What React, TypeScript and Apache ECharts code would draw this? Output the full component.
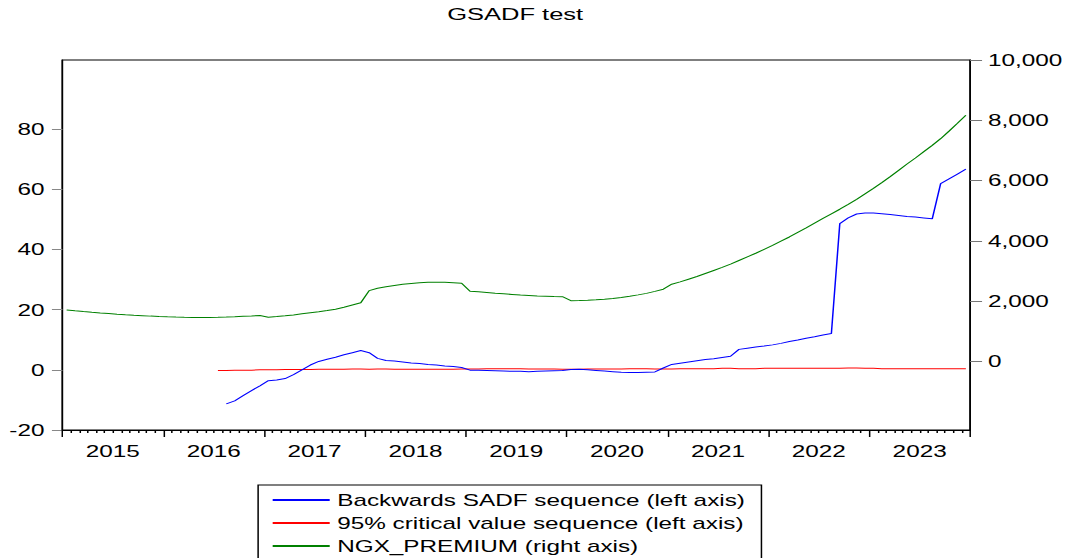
import React, { useEffect, useRef } from 'react';
import * as echarts from 'echarts';

// Calendar: monthly observations 2015M01 .. 2023M12 (index 0..107)
const years = ['2015', '2016', '2017', '2018', '2019', '2020', '2021', '2022', '2023'];
const leftTicks = [-20, 0, 20, 40, 60, 80];
const rightTicks = [0, 2000, 4000, 6000, 8000, 10000];

// NGX_PREMIUM (right axis), 2015M01..2023M12
const ngxPremium = [
  1707, 1680, 1655, 1632, 1610, 1590, 1570, 1552, 1535, 1520, 1505, 1492,
  1482, 1473, 1465, 1462, 1460, 1460, 1465, 1473, 1485, 1498, 1510, 1525,
  1470, 1490, 1515, 1545, 1580, 1615, 1650, 1690, 1735, 1800, 1875, 1950,
  2350, 2430, 2480, 2520, 2560, 2590, 2610, 2625, 2630, 2625, 2615, 2595,
  2330, 2310, 2290, 2265, 2245, 2225, 2205, 2190, 2175, 2165, 2155, 2150,
  2017, 2020, 2030, 2045, 2065, 2090, 2125, 2165, 2210, 2260, 2325, 2397,
  2563, 2640, 2730, 2820, 2920, 3020, 3120, 3230, 3350, 3470, 3590, 3720,
  3850, 3990, 4130, 4280, 4430, 4590, 4750, 4900, 5050, 5210, 5380, 5560,
  5740, 5930, 6130, 6340, 6550, 6750, 6960, 7170, 7390, 7640, 7900, 8170,
];

// Backwards SADF sequence (left axis), starting 2016M08 (index 19)
const sadfStart = 19;
const sadfSeq = [
  -11.3, -10.3, -8.6, -6.9, -5.3,
  -3.6, -3.4, -2.9, -1.6, 0.0, 1.6, 2.8, 3.5, 4.2, 5.0, 5.7, 6.4,
  5.7, 3.8, 3.1, 2.9, 2.6, 2.3, 2.1, 1.8, 1.6, 1.3, 1.1, 0.8,
  -0.1, -0.1, -0.2, -0.3, -0.4, -0.5, -0.5, -0.6, -0.5, -0.4, -0.3, -0.2,
  0.1, 0.2, 0.0, -0.2, -0.4, -0.6, -0.8, -0.9, -0.9, -0.8, -0.7, 0.6,
  1.8, 2.2, 2.6, 3.0, 3.4, 3.7, 4.1, 4.5, 6.8, 7.2, 7.6, 7.9,
  8.3, 8.8, 9.4, 9.9, 10.5, 11.0, 11.6, 12.1, 48.6, 50.5, 51.8, 52.1,
  52.1, 51.9, 51.6, 51.3, 51.0, 50.8, 50.5, 50.2, 61.9, 63.5, 65.1, 66.7,
];

// 95% critical value sequence (left axis), starting 2016M07 (index 18)
const critStart = 18;
const critSeq = [
  -0.2, -0.2, -0.1, -0.1, -0.1, 0.0,
  0.0, 0.0, 0.1, 0.1, 0.1, 0.1, 0.2, 0.2, 0.2, 0.2, 0.3, 0.3,
  0.2, 0.3, 0.3, 0.2, 0.2, 0.2, 0.2, 0.2, 0.2, 0.2, 0.2, 0.3,
  0.3, 0.3, 0.4, 0.4, 0.4, 0.4, 0.4, 0.3, 0.3, 0.3, 0.3, 0.2,
  0.2, 0.2, 0.3, 0.3, 0.3, 0.3, 0.3, 0.4, 0.4, 0.4, 0.3, 0.3,
  0.3, 0.4, 0.4, 0.4, 0.4, 0.4, 0.5, 0.5, 0.4, 0.4, 0.4, 0.5,
  0.5, 0.5, 0.5, 0.5, 0.5, 0.5, 0.5, 0.5, 0.5, 0.6, 0.6, 0.5,
  0.5, 0.4, 0.4, 0.4, 0.4, 0.4, 0.4, 0.4, 0.4, 0.4, 0.4, 0.4,
];

const seriesNames = [
  'Backwards SADF sequence (left axis)',
  '95% critical value sequence (left axis)',
  'NGX_PREMIUM (right axis)',
];

const INNER_W = 713;
const INNER_H = 600;
const SCALE = 1070 / INNER_W;

export default function App() {
  const ref = useRef<HTMLDivElement>(null);
  useEffect(() => {
    if (!ref.current) return;
    const chart = echarts.init(ref.current, null, { renderer: 'svg' });
    const font = '"Liberation Sans", Arial, sans-serif';
    const toPts = (arr: number[], start: number) => arr.map((v, k) => [start + k + 0.5, v]);
    chart.setOption({
      animation: false,
      backgroundColor: '#fff',
      textStyle: { fontFamily: font },
      title: {
        text: 'GSADF test',
        left: 298,
        top: 6,
        padding: 0,
        textStyle: { fontSize: 17, fontWeight: 'normal', color: '#000', fontFamily: font },
      },
      grid: {
        left: 41.6,
        right: 66.6,
        top: 60,
        bottom: INNER_H - 430,
        show: true,
        borderColor: '#000',
        borderWidth: 1,
        backgroundColor: 'transparent',
      },
      legend: {
        orient: 'vertical',
        left: 172,
        top: 485,
        padding: [7, 11, 30, 8.7],
        borderColor: '#000',
        borderWidth: 1,
        itemWidth: 38,
        itemHeight: 14,
        itemGap: 7,
        selectedMode: false,
        itemStyle: { opacity: 0 },
        textStyle: { fontSize: 16.2, color: '#000', fontFamily: font },
        data: seriesNames,
      },
      xAxis: [
        {
          type: 'value',
          min: 0,
          max: 108,
          interval: 12,
          axisLine: { show: true, onZero: false, lineStyle: { color: '#000', width: 1 } },
          axisTick: { show: true, length: 7, lineStyle: { color: '#000' } },
          minorTick: { show: true, splitNumber: 12, length: 3, lineStyle: { color: '#000' } },
          axisLabel: { show: false },
          splitLine: { show: false },
          minorSplitLine: { show: false },
        },
        {
          type: 'category',
          data: years,
          position: 'bottom',
          boundaryGap: true,
          axisLine: { show: false, onZero: false },
          axisTick: { show: false },
          axisLabel: { fontSize: 16.2, color: '#000', margin: 13, fontFamily: font },
          splitLine: { show: false },
        },
      ],
      yAxis: [
        {
          type: 'value',
          position: 'left',
          min: -20,
          max: 103,
          axisLine: { show: true, onZero: false, lineStyle: { color: '#000' } },
          axisTick: { show: true, length: 7, customValues: leftTicks, lineStyle: { color: '#888' } },
          axisLabel: {
            customValues: leftTicks,
            fontSize: 16.2,
            color: '#000',
            margin: 12,
            padding: [0, 0, 6, 0],
            fontFamily: font,
          },
          splitLine: { show: false },
        },
        {
          type: 'value',
          position: 'right',
          min: -2272,
          max: 10000,
          axisLine: { show: true, onZero: false, lineStyle: { color: '#000' } },
          axisTick: { show: true, length: 8, customValues: rightTicks, lineStyle: { color: '#777' } },
          axisLabel: {
            customValues: rightTicks,
            fontSize: 16.2,
            color: '#000',
            margin: 12,
            padding: [0, 0, 6, 0],
            fontFamily: font,
            formatter: (v: number) => v.toLocaleString('en-US'),
          },
          splitLine: { show: false },
        },
      ],
      series: [
        {
          name: seriesNames[0],
          type: 'line',
          xAxisIndex: 0,
          yAxisIndex: 0,
          symbol: 'none',
          lineStyle: { color: '#0000ff', width: 1 },
          itemStyle: { color: '#0000ff' },
          data: toPts(sadfSeq, sadfStart),
          z: 3,
        },
        {
          name: seriesNames[1],
          type: 'line',
          xAxisIndex: 0,
          yAxisIndex: 0,
          symbol: 'none',
          lineStyle: { color: '#ff0000', width: 1 },
          itemStyle: { color: '#ff0000' },
          data: toPts(critSeq, critStart),
          z: 2,
        },
        {
          name: seriesNames[2],
          type: 'line',
          xAxisIndex: 0,
          yAxisIndex: 1,
          symbol: 'none',
          lineStyle: { color: '#008000', width: 1 },
          itemStyle: { color: '#008000' },
          data: toPts(ngxPremium, 0),
          z: 2,
        },
      ],
    });
    return () => chart.dispose();
  }, []);
  return (
    <div
      style={{
        position: 'fixed',
        left: 0,
        top: 0,
        width: 1070,
        height: 558,
        overflow: 'hidden',
        background: '#fff',
      }}
    >
      <div
        ref={ref}
        style={{
          width: INNER_W,
          height: INNER_H,
          transform: `scaleX(${SCALE})`,
          transformOrigin: '0 0',
        }}
      />
    </div>
  );
}
